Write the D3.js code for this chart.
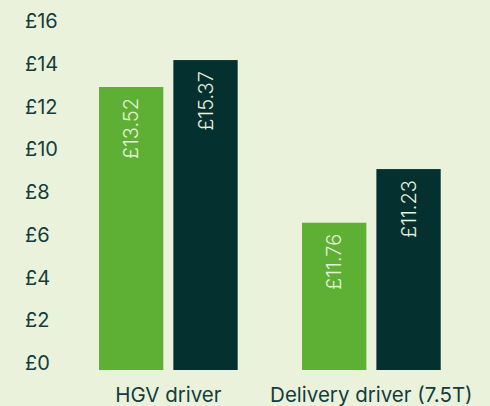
<!DOCTYPE html>
<html>
<head>
<meta charset="utf-8">
<script src="https://cdn.jsdelivr.net/npm/d3@7"></script>
<style>
  html, body { margin: 0; padding: 0; background: #eaf2dc; }
  svg { display: block; }
</style>
</head>
<body>
<div id="main"></div>
<script>
// data
var categories = ["HGV driver", "Delivery driver (7.5T)"];
var seriesNames = ["green", "dark"];
var greenValues = [13.24, 6.89];
var darkValues = [14.5, 9.4];
var greenLabels = ["£13.52", "£11.76"];
var darkLabels = ["£15.37", "£11.23"];
var yTicks = [0, 2, 4, 6, 8, 10, 12, 14, 16];

var ctx = {
    w: 490,
    h: 406,
    FONT: "Inter, 'DejaVu Sans', sans-serif",
    TEXT: "#133d3c",
    COLORS: {green: "#5db033", dark: "#04302f"},
};

var createViz = function(){
    var svgEl = d3.select("#main").append("svg")
        .attr("width", ctx.w)
        .attr("height", ctx.h);
    svgEl.append("rect")
        .attr("width", ctx.w).attr("height", ctx.h)
        .style("fill", "#eaf2dc");

    ctx.yScale = d3.scaleLinear().domain([0, 16]).range([370, 28]);
    ctx.xScale = d3.scaleBand().domain(categories)
        .range([58.4, 481.3])
        .paddingInner(0.317)
        .paddingOuter(0.2);
    ctx.innerScale = d3.scaleBand().domain(seriesNames)
        .range([0, ctx.xScale.bandwidth()])
        .paddingInner(0.135);

    // y tick labels
    svgEl.append("g").selectAll("text")
        .data(yTicks)
        .enter()
        .append("text")
        .attr("x", 25)
        .attr("y", function(d){ return ctx.yScale(d); })
        .style("font-family", ctx.FONT)
        .style("font-size", "20px")
        .style("fill", ctx.TEXT)
        .text(function(d){ return "£" + d; });

    // bars
    var rows = categories.map(function(c, i){
        return [
            {cat: c, s: "green", v: greenValues[i], label: greenLabels[i]},
            {cat: c, s: "dark", v: darkValues[i], label: darkLabels[i]}
        ];
    });
    var groups = svgEl.append("g").selectAll("g")
        .data(rows)
        .enter()
        .append("g")
        .attr("transform", function(d){ return "translate(" + ctx.xScale(d[0].cat) + ",0)"; });
    groups.selectAll("rect")
        .data(function(d){ return d; })
        .enter()
        .append("rect")
        .attr("x", function(d){ return ctx.innerScale(d.s); })
        .attr("y", function(d){ return ctx.yScale(d.v); })
        .attr("width", ctx.innerScale.bandwidth())
        .attr("height", function(d){ return ctx.yScale(0) - ctx.yScale(d.v); })
        .style("fill", function(d){ return ctx.COLORS[d.s]; });
    // value labels, rotated, hanging from the bar top
    groups.selectAll("text")
        .data(function(d){ return d; })
        .enter()
        .append("text")
        .attr("transform", function(d){
            var x = ctx.innerScale(d.s) + ctx.innerScale.bandwidth()/2 + 7;
            var y = ctx.yScale(d.v) + 11;
            return "translate(" + x + "," + y + ") rotate(-90)";
        })
        .style("text-anchor", "end")
        .style("font-family", ctx.FONT)
        .style("font-weight", "300")
        .style("font-size", "20px")
        .style("fill", "#e8f1dc")
        .text(function(d){ return d.label; });

    // category labels
    svgEl.append("g").selectAll("text")
        .data(categories)
        .enter()
        .append("text")
        .attr("x", function(d){ return ctx.xScale(d) + ctx.xScale.bandwidth()/2; })
        .attr("y", 401.5)
        .style("text-anchor", "middle")
        .style("font-family", ctx.FONT)
        .style("font-size", "20.5px")
        .style("fill", ctx.TEXT)
        .text(function(d){ return d; });
};

createViz();
</script>
</body>
</html>
